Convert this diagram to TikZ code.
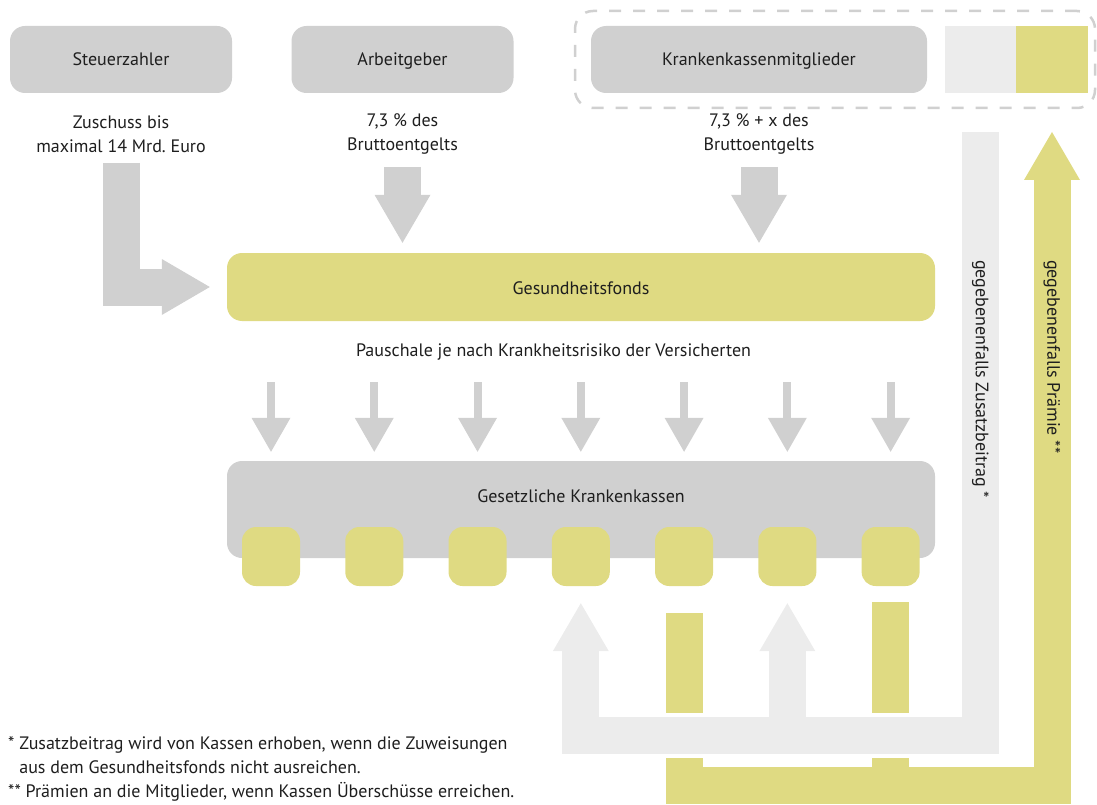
\documentclass[tikz,border=0pt]{standalone}
\usepackage{fontspec}
\setmainfont{PT Sans}
\usepackage{tikz}
\usetikzlibrary{arrows.meta}

\definecolor{boxgrau}{HTML}{D0D0D0}
\definecolor{hellgrau}{HTML}{ECECEC}
\definecolor{fondsgelb}{HTML}{DFDA82}
\definecolor{schrift}{HTML}{1E1E1E}

\tikzset{
	box/.style={shape=rectangle, rounded corners=15pt, fill=boxgrau, inner sep=0pt, text height=14pt, text depth=2.5pt, minimum width=222pt, minimum height=67pt},
	feld/.style={shape=rectangle, inner sep=0pt, minimum width=71.5pt, minimum height=67pt},
	kasse/.style={shape=rectangle, rounded corners=14pt, fill=fondsgelb, inner sep=0pt, minimum width=58pt, minimum height=59pt},
	rahmen/.style={shape=rectangle, rounded corners=18pt, draw=boxgrau, line width=2.5pt, dash pattern=on 12pt off 12pt, inner sep=0pt, minimum width=520pt, minimum height=97pt},
	pipe/.style={draw=boxgrau, line width=37pt, -{Triangle[length=48pt, width=56pt, line width=0pt]}},
	hellpipe/.style={pipe, draw=hellgrau},
	gelbpipe/.style={pipe, draw=fondsgelb},
	kleinpipe/.style={draw=boxgrau, line width=8pt, -{Triangle[length=34pt, width=39pt, line width=0pt]}},
	hochtext/.style={rotate=-90, anchor=west, inner sep=0pt}
}

\begin{document}
\begin{tikzpicture}[x=1pt, y=-1pt, font=\fontsize{18}{24}\selectfont, text=schrift]
	\useasboundingbox (0,0) rectangle (1097,805);
	\path (835,59.5) node (mitgliedrahmen) [rahmen] {};
	\path (121,59.5) node (steuer) [box] {Steuerzahler}
		  (402.5,59.5) node (arbeit) [box] {Arbeitgeber}
		  (759,59.5) node (mitglieder) [box, minimum width=336pt] {Krankenkassenmitglieder}
		  (980.5,59.5) node (zusatzfeld) [feld, fill=hellgrau] {}
		  (1052,59.5) node (praemienfeld) [feld, fill=fondsgelb] {};
	\path (121,134) node (zuschuss) [align=center] {Zuschuss bis\\maximal 14 Mrd.\ Euro}
		  (402.5,134) node (agbeitrag) [align=center] {7,3 \% des\\Bruttoentgelts}
		  (759,134) node (anbeitrag) [align=center] {7,3 \% + x des\\Bruttoentgelts};
	\path (581,287) node (fonds) [box, fill=fondsgelb, minimum width=708pt, minimum height=68pt, text depth=0pt] {Gesundheitsfonds}
		  (553.5,352) node (pauschale) {Pauschale je nach Krankheitsrisiko der Versicherten}
		  (581,509.5) node (kassen) [box, minimum width=708pt, minimum height=97pt, text height=0pt, text depth=0pt] {}
		  (581,496) node (kassentext) {Gesetzliche Krankenkassen};
	\foreach \i in {1,...,7}
		\path ({167.73+103.27*\i},556.5) node (kasse\i) [kasse] {};

	\draw[pipe] (steuer |- 0,163) |- ([xshift=-17pt]fonds.west);
	\draw[pipe, shorten >=10pt] (arbeit |- 0,167) -- (arbeit |- fonds.north);
	\draw[pipe, shorten >=10pt] (mitglieder |- 0,167) -- (mitglieder |- fonds.north);
	\foreach \i in {1,...,7}
		\draw[kleinpipe, shorten >=9pt] (kasse\i |- 0,382) -- (kasse\i |- kassen.north);

	\draw[gelbpipe] ([yshift=-27pt]kasse5.south) |- (praemienfeld |- 0,785.5) -- (praemienfeld |- 0,132);
	\draw[gelbpipe, -] ([yshift=-16pt]kasse7.south) -- (kasse7 |- 0,785.5);
	\draw[white, line width=45pt] (kasse4 |- 0,735.5) -- (zusatzfeld |- 0,735.5);
	\draw[hellpipe] (zusatzfeld |- 0,132) |- (kasse4 |- 0,735.5) -- ([yshift=-17pt]kasse4.south);
	\draw[hellpipe] (kasse6 |- 0,735.5) -- ([yshift=-17pt]kasse6.south);

	\path (zusatzfeld |- 0,260) node (zusatztext) [hochtext] {gegebenenfalls Zusatzbeitrag *}
		  (praemienfeld |- 0,260) node (praemientext) [hochtext] {gegebenenfalls Prämie **};
	\path (8,736) node (fussnote) [anchor=north west, align=left, inner sep=0pt] {* Zusatzbeitrag wird von Kassen erhoben, wenn die Zuweisungen\\\hphantom{* }aus dem Gesundheitsfonds nicht ausreichen.\\** Prämien an die Mitglieder, wenn Kassen Überschüsse erreichen.};
\end{tikzpicture}
\end{document}
